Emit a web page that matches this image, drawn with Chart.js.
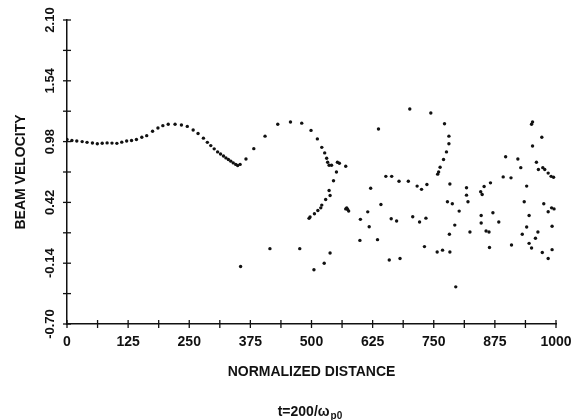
<!DOCTYPE html>
<html>
<head>
<meta charset="utf-8">
<script src="https://cdn.jsdelivr.net/npm/chart.js@4.4.0/dist/chart.umd.min.js"></script>
<style>
  html, body { margin: 0; padding: 0; background: #fff; }
</style>
</head>
<body>
<canvas id="beamChart" width="582" height="420"></canvas>
<script>
// normalized distance of each beam particle
const distance = [
  0, 10, 20, 31, 41, 52, 62, 72, 82, 92, 102, 112, 122, 132, 142, 153, 163, 175, 186, 196,
  207, 221, 234, 246, 258, 268, 279, 287, 294, 301, 308, 314, 320, 325, 330, 335, 340, 345, 349, 354,
  366, 382, 405, 431, 457, 480, 499, 512, 521, 527, 531, 533, 536, 541, 553, 557, 570, 551, 545, 536,
  538, 529, 521, 519, 513, 506, 497, 495,
  570, 572, 574, 576,
  355, 415, 476, 505, 526, 538,
  599, 600, 615, 618, 621, 635, 637, 642, 652, 659, 663, 664, 674, 679, 681, 698,
  701, 707, 716, 721, 725, 731, 734, 736, 744, 757, 758, 760, 763, 768, 770, 772, 776, 781, 781, 778,
  782, 783, 783, 788, 793, 795, 802,
  817, 817, 820, 824, 846, 847, 847, 849, 853, 857, 863, 864, 866, 871, 883,
  892, 897, 908, 909, 922, 928, 931, 935, 940, 940, 945, 945, 950, 950, 952, 952, 958, 960, 963, 964,
  971, 972, 973, 975, 977, 984, 984, 984, 990, 991, 992, 992, 995, 996
];
// beam velocity, same order
const velocity = [
  1.00, 0.99, 0.986, 0.98, 0.973, 0.967, 0.96, 0.965, 0.968, 0.966, 0.964, 0.975, 0.986, 0.99, 1.0, 1.02, 1.035, 1.075, 1.105, 1.127,
  1.14, 1.14, 1.133, 1.12, 1.087, 1.055, 1.012, 0.973, 0.943, 0.913, 0.885, 0.866, 0.848, 0.83, 0.815, 0.80, 0.784, 0.77, 0.76, 0.77,
  0.82, 0.915, 1.03, 1.14, 1.16, 1.15, 1.083, 1.005, 0.927, 0.876, 0.827, 0.79, 0.762, 0.762, 0.79, 0.78, 0.753, 0.70, 0.62, 0.53,
  0.484, 0.447, 0.395, 0.37, 0.346, 0.316, 0.285, 0.273,
  0.36, 0.37, 0.355, 0.34,
  -0.17, -0.006, -0.006, -0.20, -0.14, -0.046,
  0.07, 0.264, 0.333, 0.196, 0.55, 0.077, 1.096, 0.40, 0.66, -0.11, 0.27, 0.66, 0.248, 0.615, -0.097, 0.615,
  1.28, 0.288, 0.57, 0.24, 0.54, 0.013, 0.275, 0.585, 1.243, -0.037, 0.68, 0.70, 0.744, -0.02, 0.815, 1.145, 0.885, 1.03, 0.96, 0.426,
  0.126, 0.59, -0.037, 0.408, 0.211, -0.358, 0.34,
  0.555, 0.487, 0.426, 0.147, 0.518, 0.30, 0.23, 0.493, 0.567, 0.156, 0.147, 0.004, 0.60, 0.325, 0.24,
  0.655, 0.84, 0.646, 0.028, 0.82, 0.74, 0.126, 0.426, 0.57, 0.193, 0.30, 0.043, 1.14, 0.0, 1.16, 0.94, 0.09, 0.79, 0.147, 0.723,
  1.02, -0.042, 0.74, 0.408, 0.723, 0.69, 0.334, -0.097, 0.66, 0.37, 0.20, -0.015, 0.652, 0.36
];
const xTickLabels = ['0', '125', '250', '375', '500', '625', '750', '875', '1000'];
const yTickLabels = ['-0.70', '-0.14', '0.42', '0.98', '1.54', '2.10'];

const ink = '#111';
const fontFamily = '"Liberation Sans", Arial, sans-serif';

// crossing tick marks, rotated y labels and the time caption
const paperAxes = {
  id: 'paperAxes',
  afterDraw(chart) {
    const { ctx, scales: { x, y }, chartArea } = chart;
    ctx.save();
    ctx.strokeStyle = ink;
    ctx.lineWidth = 1.3;
    x.ticks.forEach(t => {
      const px = x.getPixelForValue(t.value);
      ctx.beginPath();
      ctx.moveTo(px, x.top - 4);
      ctx.lineTo(px, x.top + 4);
      ctx.stroke();
    });
    y.ticks.forEach(t => {
      const py = y.getPixelForValue(t.value);
      ctx.beginPath();
      ctx.moveTo(y.right - 4, py);
      ctx.lineTo(y.right + 4, py);
      ctx.stroke();
    });

    ctx.fillStyle = ink;
    ctx.font = 'bold 13px ' + fontFamily;
    ctx.textAlign = 'center';
    ctx.textBaseline = 'middle';
    yTickLabels.forEach(lbl => {
      const py = y.getPixelForValue(parseFloat(lbl));
      ctx.save();
      ctx.translate(y.right - 17, py);
      ctx.rotate(-Math.PI / 2);
      ctx.fillText(lbl, 0, 0);
      ctx.restore();
    });

    // t=200/ω_p0
    const main = 't=200/ω';
    const sub = 'p0';
    ctx.font = 'bold 14px ' + fontFamily;
    const wMain = ctx.measureText(main).width;
    ctx.font = 'bold 10px ' + fontFamily;
    const wSub = ctx.measureText(sub).width;
    const cx = (chartArea.left + chartArea.right) / 2 - 2;
    const startX = cx - (wMain + wSub) / 2;
    ctx.textAlign = 'left';
    ctx.font = 'bold 14px ' + fontFamily;
    ctx.fillText(main, startX, 412);
    ctx.font = 'bold 10px ' + fontFamily;
    ctx.fillText(sub, startX + wMain + 1, 416);
    ctx.restore();
  }
};

new Chart(document.getElementById('beamChart'), {
  type: 'scatter',
  data: {
    datasets: [{
      label: 'Beam velocity',
      data: distance.map((d, i) => ({ x: d, y: velocity[i] })),
      backgroundColor: ink,
      borderWidth: 0,
      pointRadius: 1.7,
      pointHoverRadius: 1.7
    }]
  },
  options: {
    responsive: false,
    animation: false,
    devicePixelRatio: 1,
    layout: { padding: { top: 20, right: 26, left: 0, bottom: 0 } },
    plugins: { legend: { display: false }, tooltip: { enabled: false } },
    scales: {
      x: {
        type: 'linear',
        min: 0,
        max: 1000,
        afterFit(scale) { scale.height = 96; },
        grid: { display: false },
        border: { display: true, color: ink, width: 1.5 },
        ticks: {
          stepSize: 62.5,
          autoSkip: false,
          maxRotation: 0,
          padding: 2,
          color: ink,
          font: { family: fontFamily, size: 14, weight: 'bold' },
          callback: v => xTickLabels.includes(String(v)) ? String(v) : ''
        },
        title: {
          display: true,
          text: 'NORMALIZED DISTANCE',
          color: ink,
          font: { family: fontFamily, size: 14, weight: 'bold' },
          padding: { top: 0, bottom: 39 }
        }
      },
      y: {
        type: 'linear',
        min: -0.70,
        max: 2.10,
        afterFit(scale) { scale.width = 67; },
        grid: { display: false },
        border: { display: true, color: ink, width: 1.5 },
        ticks: { stepSize: 0.28, display: false },
        title: {
          display: true,
          text: 'BEAM VELOCITY',
          color: ink,
          font: { family: fontFamily, size: 14, weight: 'bold' },
          padding: { top: 13, bottom: 0 }
        }
      }
    }
  },
  plugins: [paperAxes]
});
</script>
</body>
</html>
